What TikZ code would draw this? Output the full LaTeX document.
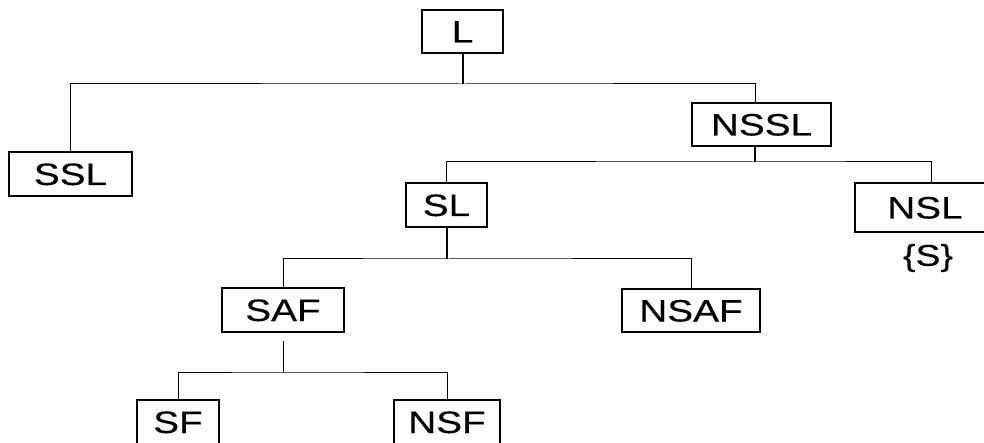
\documentclass[tikz,border=0pt]{standalone}
\usepackage{fontspec}
\setmainfont{Liberation Sans}[FakeStretch=1.25,FakeBold=0.3]
\begin{document}
\begin{tikzpicture}[x=1pt,y=-1pt,
  box/.style={draw, line width=1.6pt, rectangle, inner sep=0pt,
    font=\fontsize{31}{31}\selectfont, text height=22pt, text depth=0pt},
  wire/.style={line width=1pt},
  stem/.style={line width=2pt}]
\useasboundingbox (0,0) rectangle (984,443);
\clip (0,0) rectangle (984,443);
\fill[white] (0,0) rectangle (984,443);

% boxes
\node[box, minimum width=81pt,  minimum height=43pt] (L)    at (462.5,31.5) {L};
\node[box, minimum width=123pt, minimum height=44pt] (SSL)  at (70.5,174)   {SSL};
\node[box, minimum width=139pt, minimum height=43pt] (NSSL) at (761.5,124.5) {NSSL};
\node[box, minimum width=81pt,  minimum height=44pt] (SL)   at (446.5,205)  {SL};
\node[box, minimum width=140pt, minimum height=49pt] (NSL)  at (925,207.5)  {NSL};
\node[font=\fontsize{30}{30}\selectfont] (SET) at (928,258) {\{S\}};
\node[box, minimum width=122pt, minimum height=44pt] (SAF)  at (283,310)    {SAF};
\node[box, minimum width=138pt, minimum height=43pt] (NSAF) at (691,310.5)  {NSAF};
\node[box, minimum width=82pt,  minimum height=44pt] (SF)   at (178,422)    {SF};
\node[box, minimum width=106pt, minimum height=44pt] (NSF)  at (447,422)    {NSF};

% junction points
\coordinate (j1) at (463,84);
\coordinate (j2) at (755,162);
\coordinate (j3) at (447,259);
\coordinate (s4) at (283,341);
\coordinate (j4) at (283,372);

% level 1
\draw[stem] (L.south -| j1) -- (j1);
\draw[wire] (SSL.north) |- (j1) -| ([xshift=-6.5pt]NSSL.north);
% level 2
\draw[stem] ([xshift=-6.5pt]NSSL.south) -- (j2);
\draw[wire] (SL.north) |- (j2) -| ([xshift=6pt]NSL.north);
% level 3
\draw[stem] (SL.south -| j3) -- (j3);
\draw[wire] (SAF.north) |- (j3) -| (NSAF.north);
% level 4
\draw[wire] (s4) -- (j4);
\draw[wire] (SF.north) |- (j4) -| (NSF.north);
\end{tikzpicture}
\end{document}
